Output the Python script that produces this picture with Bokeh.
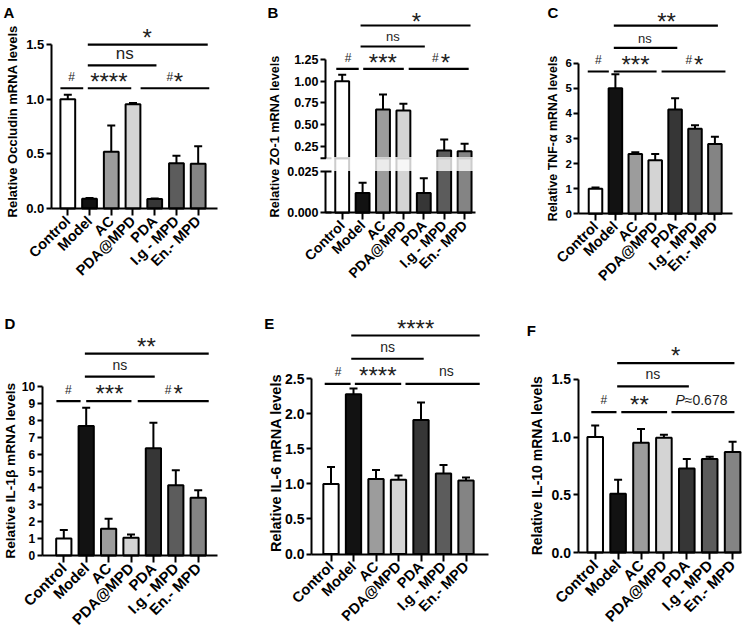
import math

from bokeh.core.properties import value
from bokeh.embed import file_html
from bokeh.layouts import column, row
from bokeh.models import FixedTicker, LinearAxis, PrintfTickFormatter, Range1d
from bokeh.plotting import figure
from bokeh.resources import INLINE

FONT = "Liberation Sans"

# ---------------------------------------------------------------- data
groups = ["Control", "Model", "AC", "PDA@MPD", "PDA", "I.g - MPD", "En.- MPD"]
bar_colors = ["#ffffff", "#121212", "#9c9c9c", "#d4d4d4", "#363636", "#5c5c5c", "#848484"]

# mean and SD of relative mRNA levels
occludin_mean = [1.00, 0.090, 0.52, 0.954, 0.086, 0.413, 0.410]
occludin_sd = [0.04, 0.005, 0.24, 0.012, 0.006, 0.070, 0.159]

zo1_mean = [1.00, 0.0118, 0.673, 0.662, 0.0118, 0.200, 0.192]
zo1_sd = [0.073, 0.0062, 0.173, 0.077, 0.0089, 0.127, 0.086]

tnf_mean = [1.00, 5.00, 2.38, 2.13, 4.16, 3.39, 2.78]
tnf_sd = [0.05, 0.56, 0.07, 0.25, 0.44, 0.14, 0.29]

il1b_mean = [1.00, 7.66, 1.59, 1.05, 6.34, 4.15, 3.42]
il1b_sd = [0.51, 1.09, 0.59, 0.20, 1.52, 0.89, 0.44]

il6_mean = [1.00, 2.28, 1.07, 1.06, 1.91, 1.15, 1.05]
il6_sd = [0.24, 0.08, 0.13, 0.06, 0.25, 0.12, 0.04]

il10_mean = [1.00, 0.51, 0.95, 0.995, 0.727, 0.81, 0.87]
il10_sd = [0.10, 0.12, 0.12, 0.025, 0.083, 0.02, 0.09]

# y ticks
occludin_ticks = [0, 0.5, 1.0, 1.5]
zo1_low_ticks = [0, 0.025]
zo1_up_ticks = [0.25, 0.5, 0.75, 1.0, 1.25]
tnf_ticks = [0, 1, 2, 3, 4, 5, 6]
il1b_ticks = list(range(11))
il6_ticks = [0, 0.5, 1.0, 1.5, 2.0, 2.5]
il10_ticks = [0, 0.5, 1.0, 1.5]

# comparison brackets (from group, to group, level) and their marks (text, group, level)
occludin_lines = [(0.92, 6.44, 1.50), (0.92, 4.08, 1.31), (-0.34, 0.71, 1.10),
                  (0.92, 2.92, 1.10), (3.35, 6.51, 1.10)]
occludin_marks = [("*", 3.65, 1.60), ("ns", 2.62, 1.41), ("#", 0.17, 1.20),
                  ("****", 1.89, 1.20), ("#", 4.69, 1.20), ("*", 5.09, 1.20)]

zo1_lines = [(0.90, 6.29, 1.642), (0.90, 4.05, 1.40), (-0.29, 0.81, 1.143),
             (1.03, 3.02, 1.143), (3.26, 6.20, 1.143)]
zo1_marks = [("*", 3.64, 1.731), ("ns", 2.48, 1.515), ("#", 0.29, 1.265),
             ("***", 1.99, 1.265), ("#", 4.57, 1.265), ("*", 5.06, 1.265)]

tnf_lines = [(0.92, 6.15, 7.50), (0.92, 4.11, 6.61), (-0.39, 0.67, 5.67),
             (0.92, 3.07, 5.67), (3.32, 6.53, 5.67)]
tnf_marks = [("**", 3.57, 7.81), ("ns", 2.48, 6.97), ("#", 0.14, 6.11),
             ("***", 2.01, 6.09), ("#", 4.69, 6.11), ("*", 5.19, 6.11)]

il1b_lines = [(0.94, 6.47, 11.94), (0.94, 4.06, 10.58), (-0.33, 0.75, 9.14),
              (1.00, 3.02, 9.14), (3.30, 6.47, 9.14)]
il1b_marks = [("**", 3.69, 12.59), ("ns", 2.50, 11.25), ("#", 0.20, 9.82),
              ("***", 2.04, 9.82), ("#", 4.66, 9.82), ("*", 5.11, 9.82)]

il6_lines = [(0.90, 6.61, 3.117), (0.90, 4.12, 2.785), (-0.28, 0.87, 2.428),
             (1.06, 3.12, 2.428), (3.31, 6.61, 2.428)]
il6_marks = [("****", 3.76, 3.27), ("ns", 2.52, 2.95), ("#", 0.32, 2.60),
             ("****", 2.08, 2.60), ("ns", 5.13, 2.60)]

il10_lines = [(0.96, 6.08, 1.641), (0.96, 4.09, 1.439), (-0.17, 0.93, 1.217),
              (1.14, 3.14, 1.217), (3.33, 6.08, 1.217)]
il10_marks = [("*", 3.51, 1.741), ("ns", 2.52, 1.54), ("#", 0.38, 1.32),
              ("**", 1.93, 1.32), ("P", 3.91, 1.32), ("≈0.678", 3.91, 1.32)]


# ---------------------------------------------------------------- helpers
def style_axis(ax, size):
    ax.axis_line_width = 2
    ax.axis_line_color = "black"
    ax.major_tick_line_width = 2
    ax.major_tick_line_color = "black"
    ax.minor_tick_line_color = None
    ax.major_tick_in = 0
    ax.major_label_text_font = FONT
    ax.major_label_text_font_style = "bold"
    ax.major_label_text_font_size = f"{size}px"
    ax.major_label_text_color = "black"


def put_text(p, x, y, t, size, style="normal", align="center", angle=0.0,
             color="#1e1e1e", y_range_name="default"):
    p.text(x=[x], y=[y], text=[t], angle=angle, text_font=value(FONT),
           text_font_size=f"{size}px", text_font_style=style, text_align=align,
           text_baseline="middle", text_color=color, y_range_name=y_range_name)


def mark_style(t, ns_size):
    """font size, style, alignment and glyph-centre shift (in em) of a bracket mark."""
    if set(t) == {"*"}:
        return 24, "normal", "center", 0.16
    if t == "#":
        return 12, "normal", "center", 0.0
    if t == "ns":
        return ns_size, "normal", "center", -0.04
    if t == "P":
        return 14, "italic", "right", 0.0
    return 14, "normal", "left", 0.0


def draw_brackets(p, lines, marks, ns_size, ppu, y_range_name="default"):
    x0, x1, yy = zip(*lines)
    p.segment(x0=list(x0), x1=list(x1), y0=list(yy), y1=list(yy), line_width=2.2,
              line_color="black", y_range_name=y_range_name)
    for t, x, y in marks:
        size, style, align, k = mark_style(t, ns_size)
        put_text(p, x, y - k * size / ppu, t, size, style, align, y_range_name=y_range_name)


def error_bars(p, xs, lo, hi, dx, y_range_name="default"):
    cap = 4.0 / dx
    p.segment(x0=xs, x1=xs, y0=lo, y1=hi, line_width=2, line_color="black",
              y_range_name=y_range_name)
    p.segment(x0=[x - cap for x in xs], x1=[x + cap for x in xs], y0=hi, y1=hi,
              line_width=2, line_color="black", y_range_name=y_range_name)


def new_figure(cfg, to_x, to_y):
    W, H = cfg["size"]
    L, R, _ = cfg["axes_px"]
    p = figure(width=W, height=H, x_range=Range1d(to_x(0), to_x(W)),
               y_range=Range1d(to_y(H), to_y(0)), output_backend="svg",
               toolbar_location=None, min_border=0, outline_line_color=None)
    p.xgrid.visible = False
    p.ygrid.visible = False
    xa = p.xaxis[0]
    style_axis(xa, cfg["xlab_font"])
    xa.fixed_location = 0
    xa.bounds = (to_x(L), to_x(R))
    xa.ticker = FixedTicker(ticks=list(range(len(groups))))
    xa.major_label_overrides = {i: g for i, g in enumerate(groups)}
    xa.major_label_orientation = math.pi / 4
    xa.major_tick_out = 7
    xa.major_label_standoff = 3
    return p


def add_titles(p, cfg, to_x, to_y, y_range_name="default"):
    lx, ly = cfg["ylabel_pos"]
    put_text(p, to_x(lx), to_y(ly), cfg["ylabel"], cfg["label_font"], "bold",
             angle=math.pi / 2, color="black", y_range_name=y_range_name)
    px, py = cfg["letter_pos"]
    put_text(p, to_x(px), to_y(py), cfg["letter"], 15, "bold", color="black",
             y_range_name=y_range_name)


def simple_panel(cfg):
    L, R, B0 = cfg["axes_px"]
    c0, dx = cfg["x_cal"]
    ppu = cfg["ppu"]

    def to_x(px):
        return (px - c0) / dx

    def to_y(py):
        return (B0 - py) / ppu

    p = new_figure(cfg, to_x, to_y)
    ya = p.yaxis[0]
    style_axis(ya, cfg["tick_font"])
    ya.fixed_location = to_x(L)
    ya.ticker = FixedTicker(ticks=cfg["ticks"])
    ya.bounds = (0, cfg["ticks"][-1])
    ya.formatter = PrintfTickFormatter(format=cfg["fmt"])
    ya.major_tick_out = 5
    ya.major_label_standoff = 2

    xs = list(range(len(groups)))
    mean = cfg["mean"]
    hi = [m + s for m, s in zip(mean, cfg["sd"])]
    p.vbar(x=xs, bottom=0, top=mean, width=0.68, fill_color=bar_colors,
           line_color="black", line_width=2)
    error_bars(p, xs, mean, hi, dx)
    draw_brackets(p, cfg["lines"], cfg["marks"], cfg["ns_size"], ppu)
    add_titles(p, cfg, to_x, to_y)
    return p


def broken_panel(cfg):
    """ZO-1 panel: y axis broken between the two break values."""
    L, R, B0 = cfg["axes_px"]
    c0, dx = cfg["x_cal"]
    low_ppu = cfg["low_ppu"]
    up_ppu, (ref_py, ref_val) = cfg["up_ppu"], cfg["up_ref"]
    low_break, up_break = cfg["breaks"]

    def to_x(px):
        return (px - c0) / dx

    def to_low(py):
        return (B0 - py) / low_ppu

    def to_up(py):
        return ref_val - (py - ref_py) / up_ppu

    W, H = cfg["size"]
    p = new_figure(cfg, to_x, to_low)
    p.extra_y_ranges = {"up": Range1d(to_up(H), to_up(0))}
    xl, xr = to_x(L), to_x(R)

    # lower segment axis
    ya = p.yaxis[0]
    style_axis(ya, cfg["tick_font"])
    ya.fixed_location = xl
    ya.ticker = FixedTicker(ticks=cfg["low_ticks"])
    ya.bounds = (0, low_break)
    ya.formatter = PrintfTickFormatter(format="%.3f")
    ya.major_tick_out = 5
    ya.major_tick_in = 6
    ya.major_label_standoff = 2

    # upper segment axis on the same vertical line
    ua = LinearAxis(y_range_name="up", fixed_location=xl)
    style_axis(ua, cfg["tick_font"])
    ua.ticker = FixedTicker(ticks=cfg["up_ticks"])
    ua.bounds = (up_break, cfg["up_ticks"][-1])
    ua.formatter = PrintfTickFormatter(format="%.2f")
    ua.major_tick_out = 5
    ua.major_label_standoff = 2
    p.add_layout(ua, "left")
    p.segment(x0=[to_x(L - 5)], x1=[to_x(L + 6)], y0=[up_break], y1=[up_break],
              line_width=2, line_color="black", y_range_name="up")

    xs = list(range(len(groups)))
    mean = cfg["mean"]
    hi = [m + s for m, s in zip(mean, cfg["sd"])]

    # lower pieces stop where the upper segment begins
    gap_top = to_low(ref_py + (ref_val - up_break) * up_ppu)
    p.vbar(x=xs, bottom=0, top=[min(m, gap_top) for m in mean], width=0.68,
           fill_color=bar_colors, line_color="black", line_width=2)
    low_idx = [i for i in xs if mean[i] < low_break]
    error_bars(p, low_idx, [mean[i] for i in low_idx], [hi[i] for i in low_idx], dx)

    # upper pieces
    up_idx = [i for i in xs if mean[i] > up_break]
    p.vbar(x=up_idx, bottom=up_break, top=[mean[i] for i in up_idx], width=0.68,
           fill_color=[bar_colors[i] for i in up_idx], line_color="black", line_width=2,
           y_range_name="up")
    # break band
    p.quad(left=[xl + 0.02], right=[xr], bottom=[low_break], top=[gap_top + 1.3 / low_ppu],
           fill_color="white", fill_alpha=0.8, line_color=None)
    error_bars(p, up_idx, [mean[i] for i in up_idx], [hi[i] for i in up_idx], dx, "up")

    draw_brackets(p, cfg["lines"], cfg["marks"], cfg["ns_size"], up_ppu, "up")
    add_titles(p, cfg, to_x, to_up, "up")
    return p


# ---------------------------------------------------------------- panels
pA = simple_panel(dict(
    letter="A", ylabel="Relative Occludin mRNA levels", mean=occludin_mean, sd=occludin_sd,
    ticks=occludin_ticks, fmt="%.1f", size=(250, 310), axes_px=(50.7, 217, 208),
    x_cal=(67.3, 21.73), ppu=109.3, tick_font=13, xlab_font=14.5, label_font=13,
    ylabel_pos=(11.7, 120.8), letter_pos=(8.3, 12), ns_size=17,
    lines=occludin_lines, marks=occludin_marks))

pB = broken_panel(dict(
    letter="B", ylabel="Relative ZO-1 mRNA levels", mean=zo1_mean, sd=zo1_sd,
    low_ticks=zo1_low_ticks, up_ticks=zo1_up_ticks, breaks=(0.025, 0.11),
    size=(250, 310), axes_px=(75, 225, 212.3), x_cal=(91.7, 20.4),
    low_ppu=41.7 / 0.025, up_ppu=86.7, up_ref=(59, 1.25), tick_font=12.5,
    xlab_font=14, label_font=12.7, ylabel_pos=(24.5, 135.8), letter_pos=(22.3, 12),
    ns_size=13, lines=zo1_lines, marks=zo1_marks))

pC = simple_panel(dict(
    letter="C", ylabel="Relative TNF-α mRNA levels", mean=tnf_mean, sd=tnf_sd,
    ticks=tnf_ticks, fmt="%d", size=(255, 310), axes_px=(78.3, 232.3, 213.3),
    x_cal=(95.0, 19.9), ppu=25.1, tick_font=11.5, xlab_font=14.5, label_font=12.4,
    ylabel_pos=(52.5, 137.8), letter_pos=(52.5, 12), ns_size=13,
    lines=tnf_lines, marks=tnf_marks))

pD = simple_panel(dict(
    letter="D", ylabel="Relative IL-1β mRNA levels", mean=il1b_mean, sd=il1b_sd,
    ticks=il1b_ticks, fmt="%d", size=(250, 319), axes_px=(41.7, 216.7, 245),
    x_cal=(63.3, 22.4), ppu=16.9, tick_font=12, xlab_font=15, label_font=13.7,
    ylabel_pos=(10.3, 160), letter_pos=(9.5, 13.3), ns_size=14,
    lines=il1b_lines, marks=il1b_marks))

pE = simple_panel(dict(
    letter="E", ylabel="Relative IL-6 mRNA levels", mean=il6_mean, sd=il6_sd,
    ticks=il6_ticks, fmt="%.1f", size=(250, 319), axes_px=(61, 238.3, 243.5),
    x_cal=(80.5, 22.5), ppu=70.1, tick_font=14, xlab_font=14.5, label_font=14.5,
    ylabel_pos=(25, 152.5), letter_pos=(18.7, 13), ns_size=14,
    lines=il6_lines, marks=il6_marks))

pF = simple_panel(dict(
    letter="F", ylabel="Relative IL-10 mRNA levels", mean=il10_mean, sd=il10_sd,
    ticks=il10_ticks, fmt="%.1f", size=(255, 319), axes_px=(77.5, 240.7, 242),
    x_cal=(94.7, 22.9), ppu=115.4, tick_font=14, xlab_font=15, label_font=14,
    ylabel_pos=(36.7, 155), letter_pos=(30.8, 20), ns_size=14,
    lines=il10_lines, marks=il10_marks))

layout = column(row(pA, pB, pC), row(pD, pE, pF))
open("out.html", "w").write(file_html(layout, INLINE, title="Relative mRNA levels"))
